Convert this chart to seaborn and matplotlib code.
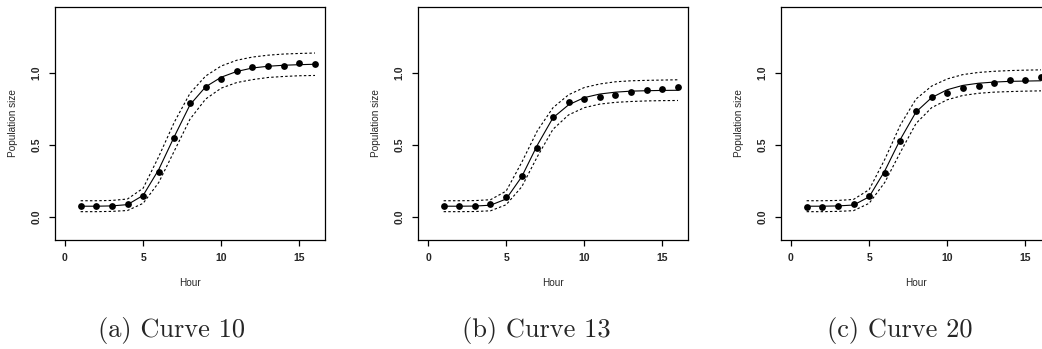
import matplotlib
matplotlib.use("Agg")
import matplotlib.pyplot as plt
import seaborn as sns
import pandas as pd

# Data
hours = list(range(1, 17))

c10_obs = [0.074, 0.074, 0.076, 0.090, 0.146, 0.315, 0.547, 0.790, 0.902, 0.960,
           1.016, 1.040, 1.047, 1.047, 1.072, 1.067]
c10_fit = [0.075, 0.075, 0.077, 0.086, 0.150, 0.330, 0.560, 0.780, 0.905, 0.972,
           1.012, 1.036, 1.048, 1.055, 1.059, 1.062]
c10_upper = [0.113, 0.113, 0.115, 0.125, 0.200, 0.420, 0.660, 0.860, 0.980, 1.050,
             1.090, 1.112, 1.125, 1.133, 1.137, 1.140]
c10_lower = [0.037, 0.037, 0.039, 0.045, 0.095, 0.240, 0.460, 0.680, 0.820, 0.896,
             0.935, 0.955, 0.970, 0.977, 0.982, 0.984]

c13_obs = [0.074, 0.074, 0.076, 0.090, 0.139, 0.287, 0.477, 0.694, 0.799, 0.819,
           0.836, 0.845, 0.868, 0.880, 0.889, 0.903]
c13_fit = [0.075, 0.075, 0.076, 0.082, 0.125, 0.280, 0.500, 0.690, 0.780, 0.830,
           0.855, 0.868, 0.875, 0.878, 0.880, 0.881]
c13_upper = [0.113, 0.113, 0.114, 0.120, 0.180, 0.380, 0.600, 0.760, 0.850, 0.900,
             0.925, 0.940, 0.947, 0.950, 0.952, 0.954]
c13_lower = [0.037, 0.037, 0.038, 0.043, 0.085, 0.210, 0.420, 0.610, 0.710, 0.760,
             0.785, 0.797, 0.803, 0.807, 0.809, 0.810]

c20_obs = [0.072, 0.072, 0.074, 0.090, 0.144, 0.308, 0.528, 0.734, 0.833, 0.861,
           0.896, 0.910, 0.933, 0.951, 0.954, 0.975]
c20_fit = [0.075, 0.075, 0.077, 0.083, 0.140, 0.320, 0.540, 0.730, 0.830, 0.885,
           0.915, 0.930, 0.938, 0.943, 0.945, 0.947]
c20_upper = [0.113, 0.113, 0.115, 0.122, 0.190, 0.400, 0.640, 0.820, 0.910, 0.960,
             0.990, 1.005, 1.013, 1.018, 1.021, 1.023]
c20_lower = [0.037, 0.037, 0.039, 0.044, 0.095, 0.240, 0.450, 0.650, 0.760, 0.815,
             0.845, 0.860, 0.868, 0.872, 0.875, 0.877]

captions = ["(a) Curve 10", "(b) Curve 13", "(c) Curve 20"]
curves = [
    (c10_obs, c10_fit, c10_upper, c10_lower),
    (c13_obs, c13_fit, c13_upper, c13_lower),
    (c20_obs, c20_fit, c20_upper, c20_lower),
]

sns.set_style("white")
plt.rcParams["font.family"] = ["Liberation Sans", "DejaVu Sans"]

W, H = 1042, 349
fig = plt.figure(figsize=(W / 100, H / 100), dpi=100)

lefts = [55, 418, 781]
ax_w, ax_top, ax_bot = 270, 7, 240
cap_x = [172, 536, 900]

for i, (obs, fit, up, lo) in enumerate(curves):
    ax = fig.add_axes([lefts[i] / W, 1 - ax_bot / H, ax_w / W, (ax_bot - ax_top) / H])
    df = pd.DataFrame({"Hour": hours, "obs": obs, "fit": fit, "up": up, "lo": lo})

    sns.lineplot(data=df, x="Hour", y="fit", ax=ax, color="black", lw=0.8)
    for col in ["up", "lo"]:
        sns.lineplot(data=df, x="Hour", y=col, ax=ax, color="black", lw=0.8,
                     dashes=False, linestyle=(0, (2.2, 2.0)))
    sns.scatterplot(data=df, x="Hour", y="obs", ax=ax, color="black", s=24,
                    edgecolor="black", linewidth=0, zorder=5)

    ax.set_xlim(-0.64, 16.64)
    ax.set_ylim(-0.16, 1.46)
    ax.set_xticks([0, 5, 10, 15])
    ax.set_yticks([0.0, 0.5, 1.0])
    ax.set_yticklabels(["0.0", "0.5", "1.0"])
    ax.tick_params(axis="both", direction="out", length=4.5, width=0.9,
                   labelsize=7.5, pad=5, color="black", left=True, bottom=True)
    ax.tick_params(axis="y", labelrotation=90)
    for lab in ax.get_xticklabels() + ax.get_yticklabels():
        lab.set_fontweight("bold")
    for lab in ax.get_yticklabels():
        lab.set_va("center")
    for sp in ax.spines.values():
        sp.set_visible(True)
        sp.set_color("black")
        sp.set_linewidth(0.9)

    ax.set_xlabel("Hour", fontsize=7.2, va="center")
    ax.set_ylabel("Population size", fontsize=7.2, va="center")
    ax.xaxis.set_label_coords(0.5, -43 / (ax_bot - ax_top))
    ax.yaxis.set_label_coords(-42 / ax_w, 0.5)

    fig.text(cap_x[i] / W, 1 - 331 / H, captions[i], family="cmr10",
             fontsize=19, ha="center", va="center")

fig.savefig("out.png", dpi=100)
